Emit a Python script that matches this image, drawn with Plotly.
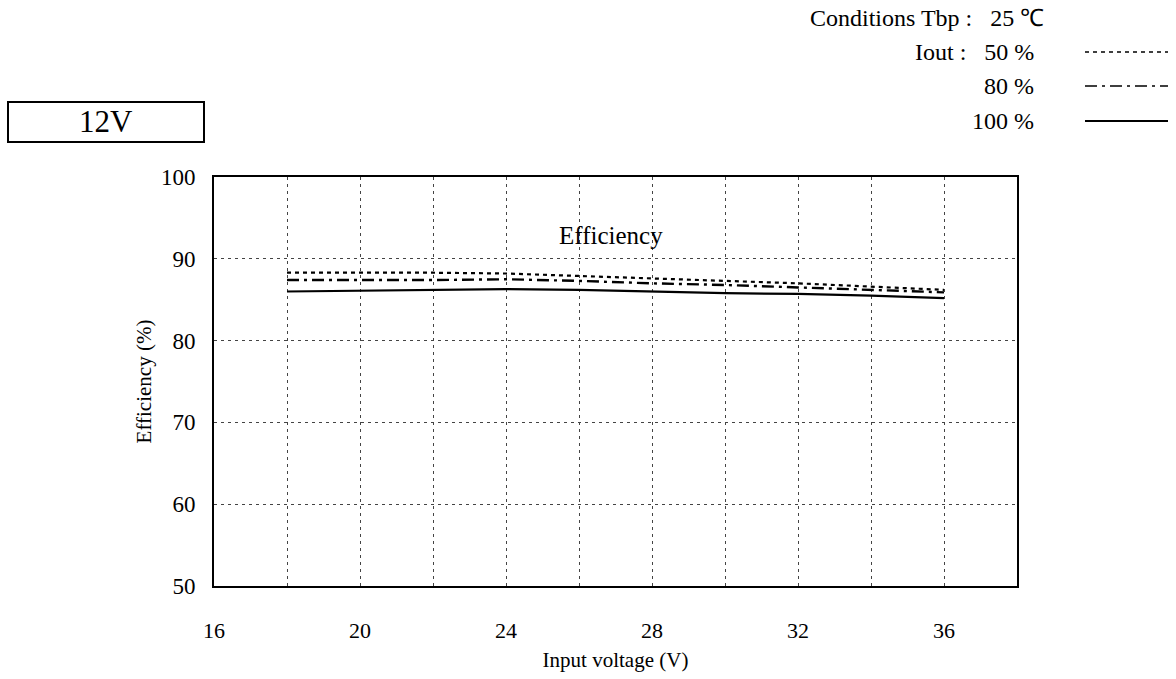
import plotly.graph_objects as go

# Input voltage sweep (V)
vin = [18, 20, 22, 24, 26, 28, 30, 32, 34, 36]

# Efficiency (%) at three load levels
eff_50 = [88.3, 88.3, 88.3, 88.2, 87.9, 87.6, 87.3, 87.0, 86.6, 86.2]
eff_80 = [87.4, 87.4, 87.4, 87.5, 87.3, 87.0, 86.8, 86.5, 86.2, 85.9]
eff_100 = [86.0, 86.1, 86.2, 86.3, 86.2, 86.0, 85.8, 85.7, 85.5, 85.2]

x_ticks = [16, 20, 24, 28, 32, 36]
y_ticks = [50, 60, 70, 80, 90, 100]

FONT = "Liberation Serif"
DASH_50 = "4px,4px"
DASH_80 = "12px,5px,3px,5px"

fig = go.Figure()
fig.add_trace(go.Scatter(x=vin, y=eff_50, mode="lines", name="50 %",
                         line=dict(color="black", width=2.2, dash=DASH_50)))
fig.add_trace(go.Scatter(x=vin, y=eff_80, mode="lines", name="80 %",
                         line=dict(color="black", width=2.4, dash=DASH_80)))
fig.add_trace(go.Scatter(x=vin, y=eff_100, mode="lines", name="100 %",
                         line=dict(color="black", width=2.2)))

grid = dict(showgrid=True, gridcolor="#444", gridwidth=1, griddash="3px,4px")

W, H = 1176, 679
L, R, T, B = 214, 159, 177, 93

fig.update_layout(
    width=W, height=H,
    margin=dict(l=L, r=R, t=T, b=B),
    paper_bgcolor="white", plot_bgcolor="white",
    showlegend=False,
    font=dict(family=FONT, color="black", size=22),
    xaxis=dict(range=[16, 38], tickvals=x_ticks, ticks="outside", ticklen=24,
               tickcolor="rgba(0,0,0,0)", showline=True, mirror=True,
               linecolor="black", linewidth=2, zeroline=False,
               tickfont=dict(size=22, family=FONT),
               minor=dict(dtick=2, tick0=16, **grid), **grid,
               title=dict(text="Input voltage (V)", standoff=10,
                          font=dict(size=21, family=FONT))),
    yaxis=dict(range=[50, 100], tickvals=y_ticks, ticks="outside", ticklen=12,
               tickcolor="rgba(0,0,0,0)", showline=True, mirror=True,
               linecolor="black", linewidth=2, zeroline=False,
               tickfont=dict(size=23, family=FONT), **grid,
               title=dict(text="Efficiency (%)", standoff=4,
                          font=dict(size=21, family=FONT))),
)

# pixel positions -> paper fractions for the header elements
pw, ph = W - L - R, H - T - B


def px(x):
    return (x - L) / pw


def py(y):
    return 1 - (y - T) / ph


def label(x, y, text, size, xanchor="center"):
    fig.add_annotation(x=px(x), y=py(y), xref="paper", yref="paper",
                       text=text, showarrow=False, xanchor=xanchor,
                       yanchor="middle", font=dict(size=size, family=FONT))


label(611, 235, "Efficiency", 25)

# output voltage box
fig.add_shape(type="rect", xref="paper", yref="paper", layer="below",
              x0=px(8), x1=px(204), y0=py(102), y1=py(142),
              line=dict(color="black", width=2))
label(106, 121, "12V", 31)

# conditions header
label(1046, 18, "Conditions Tbp :&nbsp;&nbsp;&nbsp;25 \u2103", 24, "right")
label(1036, 52, "Iout :&nbsp;&nbsp;&nbsp;50 %", 24, "right")
label(1036, 86, "80 %", 24, "right")
label(1036, 121, "100 %", 24, "right")

samples = [(DASH_50, 1.6, 52), (DASH_80, 1.6, 86), ("solid", 1.8, 121)]
for dash, wd, yy in samples:
    fig.add_shape(type="line", xref="paper", yref="paper",
                  x0=px(1085), x1=px(1168), y0=py(yy), y1=py(yy),
                  line=dict(color="black", width=wd, dash=dash))

fig.write_html("out.html")
